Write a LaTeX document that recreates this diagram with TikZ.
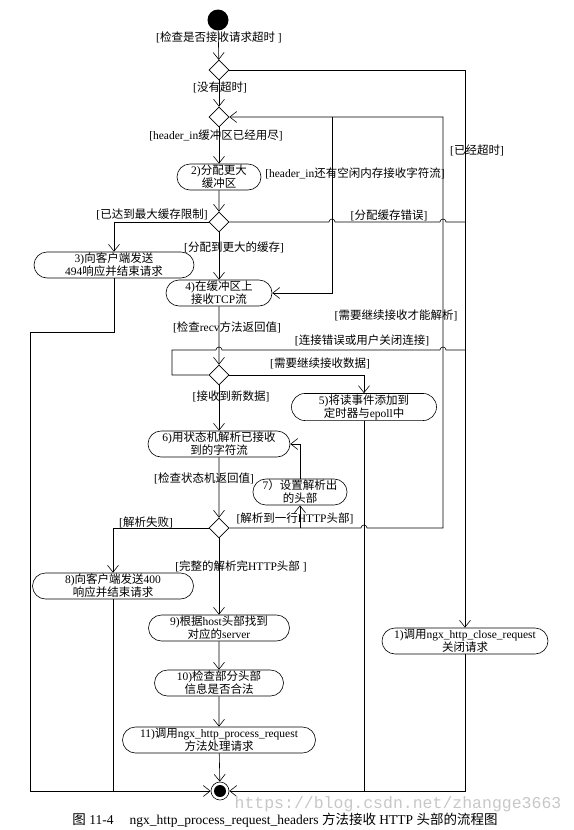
\documentclass[tikz,border=0pt]{standalone}
\usepackage{fontspec}
\setmainfont{Liberation Serif}
\newfontfamily\cjkfont{Noto Sans CJK SC}
\newfontfamily\markfont{Liberation Mono}
\XeTeXinterchartokenstate=1
\newXeTeXintercharclass\cjkclass
\count255="3000
\loop\XeTeXcharclass\count255=\cjkclass\advance\count255 by 1 \ifnum\count255<"A000 \repeat
\count255="FF00
\loop\XeTeXcharclass\count255=\cjkclass\advance\count255 by 1 \ifnum\count255<"FFF0 \repeat
\XeTeXinterchartoks 0 \cjkclass={\cjkfont}
\XeTeXinterchartoks 4095 \cjkclass={\cjkfont}
\XeTeXinterchartoks \cjkclass 0={\rmfamily}
\XeTeXinterchartoks \cjkclass 4095={\rmfamily}
\usepackage{tikz}
\usetikzlibrary{arrows.meta,shapes.geometric,shapes.misc}

\begin{document}
\begin{tikzpicture}[x=1pt,y=-1pt,line width=0.6pt,
  >={Straight Barb[length=7pt,width=11pt]},
  font=\fontsize{11.5}{13}\selectfont,
  act/.style={draw,rounded rectangle,align=center,inner xsep=2pt,inner ysep=1pt,minimum height=26pt},
  dec/.style={draw,diamond,fill=white,inner sep=0pt,minimum width=20pt,minimum height=20pt}]
  \useasboundingbox (0,0) rectangle (573,830);
  \node[circle,fill,inner sep=0pt,minimum size=21pt] (start) at (218,20) {};
  \node[dec] (d1) at (219,70) {};
  \node[dec] (d2) at (219,117) {};
  \node[act,minimum width=88pt] (n2) at (219,177) {2)分配更大\\缓冲区};
  \node[dec] (d3) at (219,222) {};
  \node[act,minimum width=164pt] (n3) at (114,265) {3)向客户端发送\\494响应并结束请求};
  \node[act,minimum width=110pt] (n4) at (219,293) {4)在缓冲区上\\接收TCP流};
  \node[dec] (d4) at (219,375) {};
  \node[act,minimum width=149pt] (n5) at (364,407) {5)将读事件添加到\\定时器与epoll中};
  \node[act,minimum width=146pt] (n6) at (219,444) {6)用状态机解析已接收\\到的字符流};
  \node[act,minimum width=88pt] (n7) at (300,492) {7）设置解析出\\的头部};
  \node[dec] (d5) at (219,528) {};
  \node[act,minimum width=165pt] (n8) at (113,586) {8)向客户端发送400\\响应并结束请求};
  \node[act,minimum width=145pt] (n9) at (219,628) {9)根据host头部找到\\对应的server};
  \node[act,minimum width=170pt] (n1) at (465,641) {1)调用ngx\_http\_close\_request\\关闭请求};
  \node[act,minimum width=133pt] (n10) at (219,683) {10)检查部分头部\\信息是否合法};
  \node[act,minimum width=197pt] (n11) at (219,740) {11)调用ngx\_http\_process\_request\\方法处理请求};
  \node[circle,draw,fill=white,inner sep=0pt,minimum size=18pt] (stop) at (220,791) {};
  \node[circle,fill,inner sep=0pt,minimum size=12pt] (stopdot) at (stop) {};
  \coordinate (lane1) at (332,117);
  \coordinate (lane2) at (443,117);
  \draw[->] (start) -- (d1);
  \draw[->] (d1) -- (d2);
  \draw[->] (d2) -- (n2);
  \draw[->] (n2) -- (d3);
  \draw[->] (d3) -- (n4);
  \draw[->] (d3.west) -| (n3.north);
  \draw[->] (d1.east) -| (n1.north);
  \draw (d3.east) -- (329,222) arc (180:360:3) -- (440,222) arc (180:360:3) -- (465,222);
  \draw[->] (lane1) |- (n4.east);
  \draw[->] (d5.east) -- (361,528) arc (180:360:3) -- (lane2 |- d5.east) -- (lane2) -- (d2.east);
  \draw[->] (n4) -- (d4);
  \draw (d4.west) -| (172,350) -- (216,350) arc (180:360:3) -- (440,350) arc (180:360:3) -- (465,350);
  \draw[->] (d4.east) -| (n5.north);
  \draw[->] (d4) -- (n6);
  \draw[->] (n6) -- (d5);
  \draw[->] (n7.north) |- (n6.east);
  \draw[->] (d5.east -| n7.south) -- (n7.south);
  \draw[->] (d5.west) -| (n8.north);
  \draw[->] (d5) -- (n9);
  \draw[->] (n9) -- (n10);
  \draw[->] (n10) -- (n11);
  \draw[->] (n11) -- (stop);
  \draw[->] (n3.south) -- (114,332) -- (30,332) |- (stop.west);
  \draw[->] (n1.south) |- (stop.east);
  \draw (n8.south) -- (n8.south |- stop.west);
  \draw (n5.south) -- (n5.south |- stop.east);
  \node (lb1) at (219,37) {[检查是否接收请求超时 ]};
  \node (lb2) at (220,87) {[没有超时]};
  \node (lb3) at (216,135) {[header\_in缓冲区已经用尽]};
  \node (lb4) at (355,173) {[header\_in还有空闲内存接收字符流]};
  \node (lb5) at (152,214) {[已达到最大缓存限制]};
  \node (lb6) at (389,215) {[分配缓存错误]};
  \node (lb7) at (234,247) {[分配到更大的缓存]};
  \node (lb8) at (477,150) {[已经超时]};
  \node (lb9) at (227,327) {[检查recv方法返回值]};
  \node (lb10) at (396,315) {[需要继续接收才能解析]};
  \node (lb11) at (362,340) {[连接错误或用户关闭连接]};
  \node (lb12) at (320,363) {[需要继续接收数据]};
  \node (lb13) at (231,396) {[接收到新数据]};
  \node (lb14) at (204,478) {[检查状态机返回值]};
  \node (lb15) at (146,522) {[解析失败]};
  \node (lb16) at (295,518) {[解析到一行HTTP头部]};
  \node (lb17) at (241,566) {[完整的解析完HTTP头部 ]};
  \node[text=black!22,font=\markfont\fontsize{16.5}{16.5}\selectfont] (mark) at (398,804) {https://blog.csdn.net/zhangge3663};
  \node[font=\fontsize{13.5}{15}\selectfont] (cap) at (285,820) {图 11-4\hspace{1.2em}ngx\_http\_process\_request\_headers 方法接收 HTTP 头部的流程图};
\end{tikzpicture}
\end{document}
